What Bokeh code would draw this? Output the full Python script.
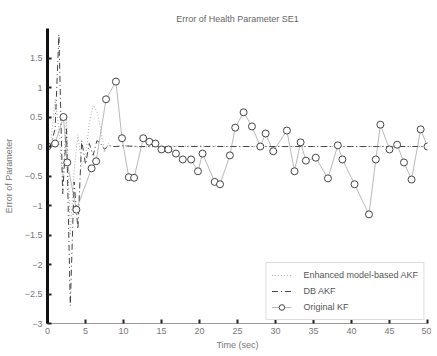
from bokeh.plotting import figure
from bokeh.models import FixedTicker, Legend, LegendItem
from bokeh.embed import file_html
from bokeh.resources import INLINE

# Enhanced AKF (dotted)
t_enh = [0, 0.5, 1, 1.5, 2, 2.5, 3, 3.5, 4, 4.5, 5, 5.5, 6, 6.5, 7, 7.5, 8, 8.5, 9, 10, 12, 15, 20, 25, 30, 35, 40, 45, 50]
v_enh = [0, 0.15, 0.8, 0.3, -0.6, 0.5, -1.5, -0.4, 0.2, -0.3, -0.2, 0.4, 0.7, 0.6, 0.3, -0.1, 0.05, 0.0, 0.0, 0.02, -0.01, 0.0, 0.01, 0.0, 0.0, 0.0, 0.0, 0.0, 0.0]

# DB AKF (dash-dot)
t_db = [0, 0.5, 1, 1.5, 2, 2.5, 3, 3.5, 4, 4.5, 5, 5.5, 6, 6.5, 7, 7.5, 8, 8.5, 9, 10, 12, 15, 20, 25, 30, 35, 40, 45, 50]
v_db = [0, 0.05, 0.3, 1.9, -0.8, 0.3, -2.7, -0.6, -1.4, 0.1, -0.3, 0.05, -0.15, 0.1, 0.05, -0.05, 0.02, 0.0, 0.0, 0.01, 0.0, 0.0, 0.0, 0.0, 0.0, 0.0, 0.0, 0.0, 0.0]

# Original KF (circles)
t_kf = [0.0, 1.0, 2.1, 2.6, 3.8, 5.8, 6.4, 7.7, 9.0, 9.8, 10.7, 11.4, 12.6, 13.4, 14.2, 15.0, 15.9, 16.9, 17.8, 18.9, 19.8, 20.4, 22.0, 22.7, 24.0, 24.7, 25.8, 26.9, 28.0, 28.7, 29.7, 31.5, 32.5, 33.3, 34.0, 35.3, 36.9, 38.2, 38.8, 40.4, 42.3, 43.2, 43.8, 45.0, 46.0, 46.9, 47.9, 49.1, 50.0]
v_kf = [0.0, 0.05, 0.5, -0.27, -1.07, -0.37, -0.25, 0.8, 1.1, 0.14, -0.52, -0.53, 0.14, 0.08, 0.05, -0.05, -0.05, -0.12, -0.22, -0.22, -0.42, -0.12, -0.6, -0.64, -0.15, 0.32, 0.58, 0.34, 0.0, 0.22, -0.08, 0.27, -0.42, 0.07, -0.24, -0.19, -0.54, 0.02, -0.22, -0.64, -1.15, -0.22, 0.37, -0.05, 0.03, -0.27, -0.56, 0.29, 0.0]

x_ticks = [0, 5, 10, 15, 20, 25, 30, 35, 40, 45, 50]
y_ticks = [-3, -2.5, -2, -1.5, -1, -0.5, 0, 0.5, 1, 1.5]

p = figure(width=431, height=352, output_backend="svg", toolbar_location=None,
           x_range=(0, 50), y_range=(-3, 2),
           title="Error of Health Parameter SE1",
           min_border_left=46, min_border_right=4, min_border_top=28, min_border_bottom=26)

p.title.align = "center"
p.title.text_font = "Liberation Sans"
p.title.text_font_size = "9px"
p.title.text_font_style = "normal"
p.title.text_color = "#666666"

p.outline_line_color = None
p.grid.visible = False
p.background_fill_color = "white"
p.border_fill_color = "white"

for ax in (p.xaxis[0], p.yaxis[0]):
    ax.major_label_text_font = "Liberation Sans"
    ax.major_label_text_font_size = "9px"
    ax.major_label_text_color = "#777777"
    ax.axis_label_text_font = "Liberation Sans"
    ax.axis_label_text_font_size = "9px"
    ax.axis_label_text_font_style = "normal"
    ax.axis_label_text_color = "#777777"
    ax.major_tick_in = 4
    ax.major_tick_out = 0
    ax.minor_tick_line_color = None
    ax.major_tick_line_color = "#222222"
    ax.major_tick_line_width = 2

p.xaxis.ticker = FixedTicker(ticks=x_ticks)
p.yaxis.ticker = FixedTicker(ticks=y_ticks)
p.xaxis.axis_label = "Time (sec)"
p.yaxis.axis_label = "Error of Parameter"
p.xaxis.axis_line_color = "#999999"
p.yaxis.axis_line_color = "#111111"
p.yaxis.axis_line_width = 3
p.xaxis.major_label_standoff = 4
p.xaxis.axis_label_standoff = 3
p.yaxis.major_label_standoff = 5
p.yaxis.axis_label_standoff = 8

r_enh = p.line(t_enh, v_enh, line_color="#aaaaaa", line_width=1, line_dash="1 2")
r_db = p.line(t_db, v_db, line_color="#444444", line_width=1, line_dash="6 3 1 3")
r_kf_l = p.line(t_kf, v_kf, line_color="#888888", line_width=0.6)
r_kf_m = p.scatter(t_kf, v_kf, marker="circle", size=7, line_color="#444444",
                   fill_color="white", line_width=1)

legend = Legend(items=[
    LegendItem(label="Enhanced model-based AKF", renderers=[r_enh]),
    LegendItem(label="DB AKF", renderers=[r_db]),
    LegendItem(label="Original KF", renderers=[r_kf_l, r_kf_m]),
], location="bottom_right")
legend.label_text_font = "Liberation Sans"
legend.label_text_font_size = "9px"
legend.label_text_color = "#555555"
legend.glyph_width = 20
legend.glyph_height = 14
legend.label_height = 14
legend.spacing = 2
legend.padding = 5
legend.margin = 3
legend.label_standoff = 12
legend.border_line_color = "#bbbbbb"
legend.background_fill_alpha = 1
p.add_layout(legend)

open("out.html", "w").write(file_html(p, INLINE))
